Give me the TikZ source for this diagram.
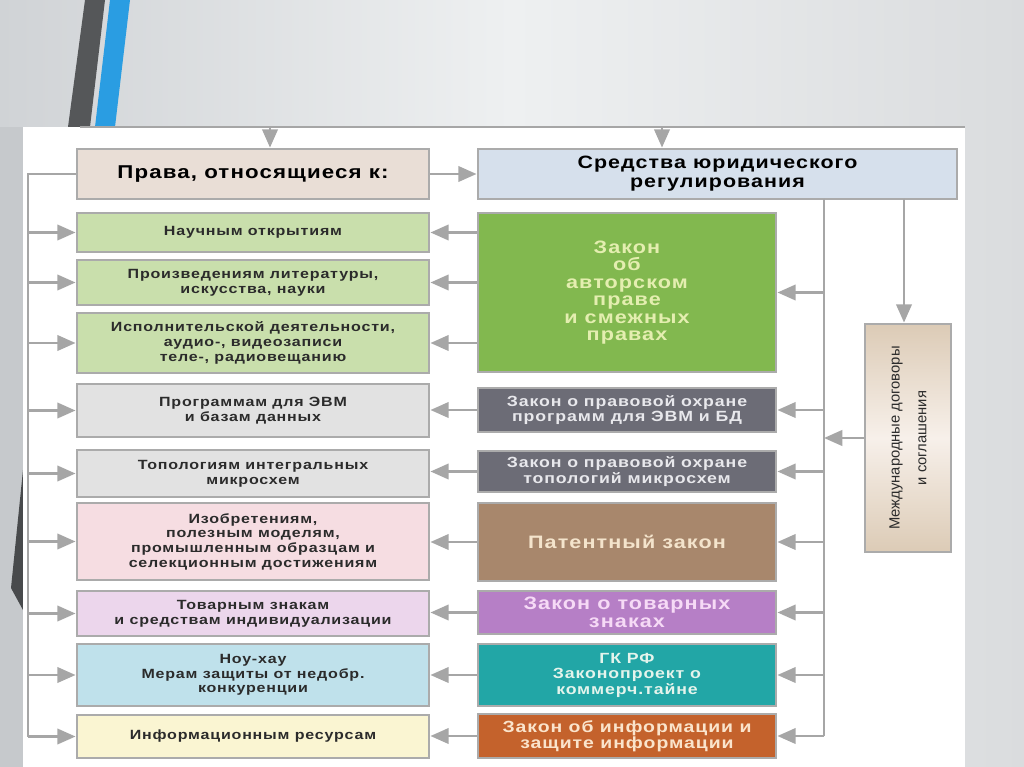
\documentclass[tikz,border=0pt]{standalone}
\usepackage{fontspec}
\setmainfont{Liberation Sans}[FakeStretch=1.2,LetterSpace=6]
\newfontfamily\plainfont{Liberation Sans}
\usetikzlibrary{arrows.meta}

\definecolor{slidebg}{HTML}{EEF0F1}
\definecolor{slideleft}{HTML}{D0D3D6}
\definecolor{slideright}{HTML}{DADCDE}
\definecolor{slideside}{HTML}{C6C9CC}
\definecolor{stripegray}{HTML}{555759}
\definecolor{stripeblue}{HTML}{2A9DE2}
\definecolor{framegray}{HTML}{ABABAB}
\definecolor{arrgray}{HTML}{A6A6A6}
\definecolor{lefttext}{HTML}{2B2B2B}
\definecolor{hlfill}{HTML}{E9DED6}
\definecolor{hrfill}{HTML}{D6E0EC}
\definecolor{lgreen}{HTML}{C9DFAC}
\definecolor{lgray}{HTML}{E2E2E2}
\definecolor{lpink}{HTML}{F6DDE2}
\definecolor{lviolet}{HTML}{ECD6EC}
\definecolor{lblue}{HTML}{BFE1EB}
\definecolor{lyellow}{HTML}{FAF5D2}
\definecolor{rgreen}{HTML}{82B84F}
\definecolor{rslate}{HTML}{6C6C76}
\definecolor{rbrown}{HTML}{A8876C}
\definecolor{rviolet}{HTML}{B67FC6}
\definecolor{rteal}{HTML}{22A6A6}
\definecolor{rorange}{HTML}{C4622C}
\definecolor{tgreen}{HTML}{E4EEB0}
\definecolor{tslate}{HTML}{E8E8EC}
\definecolor{tbrown}{HTML}{F4E4CC}
\definecolor{tviolet}{HTML}{F6DAF6}
\definecolor{tteal}{HTML}{E4F4EC}
\definecolor{torange}{HTML}{FAE4CC}
\definecolor{mbeige}{HTML}{DCCBB6}
\definecolor{mlight}{HTML}{F7F0EA}

\begin{document}
\begin{tikzpicture}[x=0.025cm,y=-0.025cm,
    boxframe/.style={draw=framegray,line width=2pt,inner sep=0pt,align=center},
    lbox/.style={boxframe,minimum width=8.8cm,text=lefttext,
      font=\bfseries\fontsize{9.5}{10.4}\selectfont},
    rbox/.style={boxframe,minimum width=7.45cm,
      font=\bfseries\fontsize{10.5}{11}\selectfont},
    bigtext/.style={font=\bfseries\fontsize{12.8}{12.4}\selectfont},
    trunk/.style={draw=arrgray,line width=1.8pt},
    arr/.style={trunk,-{Triangle[length=13pt,width=11pt]}}]
  \useasboundingbox (0,0) rectangle (1024,767);
  % slide background
  \shade[left color=slideleft,right color=slideright,middle color=slidebg]
    (0,0) rectangle (1024,767);
  \fill[slideside] (0,127) rectangle (23,767);
  \fill[stripegray] (85,0) -- (105,0) -- (90,127) -- (68,127) -- cycle;
  \fill[stripeblue] (110,0) -- (130,0) -- (115,127) -- (95,127) -- cycle;
  \fill[stripegray!85!black] (23,470) -- (11,588) -- (23,610) -- cycle;
  \fill[white] (23,127) rectangle (965,767);

  % headers
  \node[boxframe,fill=hlfill,minimum width=8.8cm,minimum height=1.25cm,
    font=\bfseries\fontsize{13.2}{13.5}\selectfont] (hl) at (253,174) {Права, относящиеся к:};
  \node[boxframe,fill=hrfill,minimum width=11.975cm,minimum height=1.25cm,
    font=\bfseries\fontsize{12.7}{13.5}\selectfont] (hr) at (717.5,174)
    {Средства юридического\\регулирования};

  % rights
  \node[lbox,fill=lgreen,minimum height=0.975cm] (L1) at (253,232.5) {Научным открытиям};
  \node[lbox,fill=lgreen,minimum height=1.125cm] (L2) at (253,282.5)
    {Произведениям литературы,\\искусства, науки};
  \node[lbox,fill=lgreen,minimum height=1.5cm] (L3) at (253,343)
    {Исполнительской деятельности,\\аудио-, видеозаписи\\теле-, радиовещанию};
  \node[lbox,fill=lgray,minimum height=1.325cm] (L4) at (253,410.5)
    {Программам для ЭВМ\\и базам данных};
  \node[lbox,fill=lgray,minimum height=1.175cm] (L5) at (253,473.5)
    {Топологиям интегральных\\микросхем};
  \node[lbox,fill=lpink,minimum height=1.925cm] (L6) at (253,541.5)
    {Изобретениям,\\полезным моделям,\\промышленным образцам и\\селекционным достижениям};
  \node[lbox,fill=lviolet,minimum height=1.125cm] (L7) at (253,613.5)
    {Товарным знакам\\и средствам индивидуализации};
  \node[lbox,fill=lblue,minimum height=1.55cm] (L8) at (253,675)
    {Ноу-хау\\Мерам защиты от недобр.\\конкуренции};
  \node[lbox,fill=lyellow,minimum height=1.075cm] (L9) at (253,736.5)
    {Информационным ресурсам};

  % laws
  \node[rbox,bigtext,fill=rgreen,text=tgreen,minimum height=3.975cm] (R1) at (627,292.5)
    {Закон\\об\\авторском\\праве\\и смежных\\правах};
  \node[rbox,fill=rslate,text=tslate,minimum height=1.1cm] (R2) at (627,410)
    {Закон о правовой охране\\программ для ЭВМ и БД};
  \node[rbox,fill=rslate,text=tslate,minimum height=1.025cm] (R3) at (627,471.5)
    {Закон о правовой охране\\топологий микросхем};
  \node[rbox,bigtext,fill=rbrown,text=tbrown,minimum height=1.95cm] (R4) at (627,542)
    {Патентный закон};
  \node[rbox,bigtext,fill=rviolet,text=tviolet,minimum height=1.075cm] (R5) at (627,612.5)
    {Закон о товарных\\знаках};
  \node[rbox,fill=rteal,text=tteal,minimum height=1.55cm] (R6) at (627,675)
    {ГК РФ\\Законопроект о\\коммерч.тайне};
  \node[rbox,fill=rorange,text=torange,minimum height=1.1cm,
    font=\bfseries\fontsize{11.5}{11.4}\selectfont] (R7) at (627,736)
    {Закон об информации и\\защите информации};

  % treaties
  \node[boxframe,top color=mbeige,bottom color=mbeige,middle color=mlight,
    minimum width=2.15cm,minimum height=5.7cm] (M) at (908,438) {};
  \node[rotate=90,align=center,text=lefttext,
    font=\plainfont\fontsize{10.5}{19}\selectfont] (Mtext) at (M.center)
    {Международные договоры\\и соглашения};

  % connectors
  \coordinate (tl) at (80,127);
  \coordinate (tr) at (965,127);
  \coordinate (t1) at (270,127);
  \coordinate (t2) at (662,127);
  \coordinate (lt) at (28,174);
  \coordinate (rt) at (824,199);
  \coordinate (mt) at (904,199);
  \draw[trunk] (tl) -- (tr);
  \draw[arr] (t1) -- (t1 |- hl.north);
  \draw[arr] (t2) -- (t2 |- hr.north);
  \draw[arr] (hl.east) -- (hr.west);
  \draw[trunk] (hl.west) -- (lt) -- (lt |- L9);
  \draw[arr] (lt |- L1) -- (L1.west);
  \draw[arr] (lt |- L2) -- (L2.west);
  \draw[arr] (lt |- L3) -- (L3.west);
  \draw[arr] (lt |- L4) -- (L4.west);
  \draw[arr] (lt |- L5) -- (L5.west);
  \draw[arr] (lt |- L6) -- (L6.west);
  \draw[arr] (lt |- L7) -- (L7.west);
  \draw[arr] (lt |- L8) -- (L8.west);
  \draw[arr] (lt |- L9) -- (L9.west);
  \draw[arr] (R1.west |- L1) -- (L1.east);
  \draw[arr] (R1.west |- L2) -- (L2.east);
  \draw[arr] (R1.west |- L3) -- (L3.east);
  \draw[arr] (R2.west) -- (R2.west -| L4.east);
  \draw[arr] (R3.west) -- (R3.west -| L5.east);
  \draw[arr] (R4.west) -- (R4.west -| L6.east);
  \draw[arr] (R5.west) -- (R5.west -| L7.east);
  \draw[arr] (R6.west) -- (R6.west -| L8.east);
  \draw[arr] (R7.west) -- (R7.west -| L9.east);
  \draw[trunk] (rt) -- (rt |- R7);
  \draw[arr] (rt |- R1) -- (R1.east);
  \draw[arr] (rt |- R2) -- (R2.east);
  \draw[arr] (rt |- R3) -- (R3.east);
  \draw[arr] (rt |- R4) -- (R4.east);
  \draw[arr] (rt |- R5) -- (R5.east);
  \draw[arr] (rt |- R6) -- (R6.east);
  \draw[arr] (rt |- R7) -- (R7.east);
  \draw[arr] (mt) -- (mt |- M.north);
  \draw[arr] (M.west) -- (M.west -| rt);
\end{tikzpicture}
\end{document}
